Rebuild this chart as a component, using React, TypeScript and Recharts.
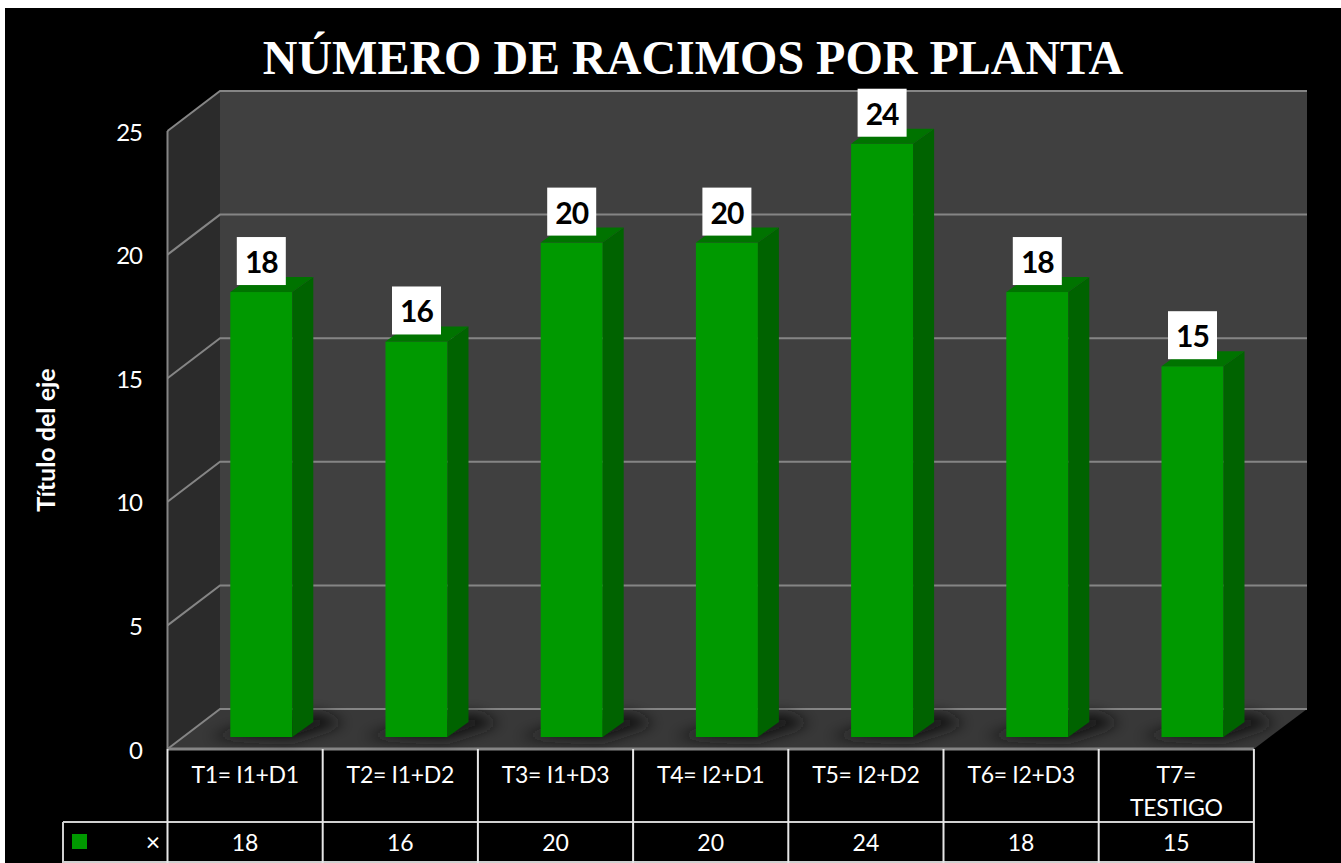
import { Bar, BarChart, CartesianGrid, Label, LabelList, XAxis, YAxis } from "recharts";

const categories = [
  "T1= I1+D1",
  "T2= I1+D2",
  "T3= I1+D3",
  "T4= I2+D1",
  "T5= I2+D2",
  "T6= I2+D3",
  "T7= TESTIGO",
];
const racimos = [18, 16, 20, 20, 24, 18, 15];
const yTicks = [0, 5, 10, 15, 20, 25];

const chartData = categories.map((label, i) => ({ label, racimos: racimos[i] }));

// the fake 3D box: bars stand on a plane between the front edge and the back wall
const WIDTH = 1341;
const HEIGHT = 863;
const BAND = 155.2;
const FRONT_LEFT = 167.5;
const FRONT_RIGHT = FRONT_LEFT + BAND * categories.length;
const BACK_LEFT = 220;
const BACK_RIGHT = 1307;
const FRONT_DY = 12; // bar plane -> front edge
const BACK_DY = 40 - FRONT_DY; // bar plane -> back wall
const PLANE_LEFT = 183.3;
const PLANE_BOTTOM = 737;
const PLANE_TOP = 119;
const DEPTH_X = 21;
const DEPTH_Y = 15;
const FLOOR_FRONT = PLANE_BOTTOM + FRONT_DY;
const ROW_LINE = 822;
const FONT = "Lato, sans-serif";

function Bar3D(props: any) {
  const { x, y, width, height } = props;
  const base = y + height;
  const right = x + width;
  return (
    <g>
      <polygon
        points={`${x - 22},${base} ${right},${base + 3} ${right + 52},${base - 14} ${right + 26},${base - 24} ${x + 16},${base - 10}`}
        fill="#141414"
        filter="url(#floorShadow)"
      />
      <rect x={x} y={y} width={width} height={height} fill="#009900" />
      <polygon
        points={`${right},${y} ${right + DEPTH_X},${y - DEPTH_Y} ${right + DEPTH_X},${base - DEPTH_Y} ${right},${base}`}
        fill="#006300"
      />
      <polygon
        points={`${x},${y} ${x + DEPTH_X},${y - DEPTH_Y} ${right + DEPTH_X},${y - DEPTH_Y} ${right},${y}`}
        fill="#007300"
      />
    </g>
  );
}

function ValueBox(props: any) {
  const { x, y, width, value } = props;
  const cx = x + width / 2;
  return (
    <g>
      <rect x={cx - 24.5} y={y - 55} width={49} height={48} fill="#fff" />
      <text
        x={cx}
        y={y - 31}
        textAnchor="middle"
        dominantBaseline="central"
        fontFamily={FONT}
        fontWeight={700}
        fontSize={30}
        letterSpacing={-1}
        fill="#000"
      >
        {value}
      </text>
    </g>
  );
}

function WallLine(props: any) {
  const { y1, index } = props;
  const back = y1 - BACK_DY;
  return (
    <polyline
      key={index}
      points={`${FRONT_LEFT},${y1 + FRONT_DY} ${BACK_LEFT},${back} ${BACK_RIGHT},${back}`}
      fill="none"
      stroke="#858585"
      strokeWidth={2}
    />
  );
}

function YTick(props: any) {
  const { y, payload } = props;
  return (
    <text
      x={142}
      y={y + FRONT_DY}
      textAnchor="end"
      dominantBaseline="central"
      fontFamily={FONT}
      fontSize={24}
      letterSpacing={-1}
      fill="#fff"
    >
      {payload.value}
    </text>
  );
}

function TableTick(props: any) {
  const { x, payload } = props;
  const i = payload.index;
  const cx = x - (PLANE_LEFT - FRONT_LEFT);
  const left = cx - BAND / 2;
  const words = String(payload.value);
  const lines = words.length > 9 ? words.split(" ") : [words];
  const textProps = {
    textAnchor: "middle" as const,
    dominantBaseline: "central" as const,
    fontFamily: FONT,
    fontSize: 23,
    fill: "#fff",
  };
  return (
    <g>
      <line x1={left} y1={FLOOR_FRONT} x2={left} y2={HEIGHT} stroke="#e6e6e6" strokeWidth={2} />
      {i === categories.length - 1 && (
        <line x1={left + BAND} y1={FLOOR_FRONT} x2={left + BAND} y2={HEIGHT} stroke="#e6e6e6" strokeWidth={2} />
      )}
      {lines.map((line, k) => (
        <text key={line} x={cx} y={774 + k * 33} letterSpacing={-0.3} {...textProps}>
          {line}
        </text>
      ))}
      <text x={cx} y={842} {...textProps}>
        {racimos[i]}
      </text>
    </g>
  );
}

export default function App() {
  return (
    <div style={{ position: "absolute", left: 0, top: 0, width: WIDTH, height: HEIGHT, background: "#fff", overflow: "hidden" }}>
      <div style={{ position: "absolute", left: 5, top: 8, right: 0, bottom: 0, background: "#000" }} />

      <svg width={WIDTH} height={HEIGHT} style={{ position: "absolute", left: 0, top: 0 }}>
        <polygon
          points={`${BACK_LEFT},${PLANE_TOP - BACK_DY} ${BACK_RIGHT},${PLANE_TOP - BACK_DY} ${BACK_RIGHT},${PLANE_BOTTOM - BACK_DY} ${BACK_LEFT},${PLANE_BOTTOM - BACK_DY}`}
          fill="#404040"
        />
        <polygon
          points={`${FRONT_LEFT},${PLANE_TOP + FRONT_DY} ${BACK_LEFT},${PLANE_TOP - BACK_DY} ${BACK_LEFT},${PLANE_BOTTOM - BACK_DY} ${FRONT_LEFT},${FLOOR_FRONT}`}
          fill="#2b2b2b"
        />
        <polygon
          points={`${FRONT_LEFT},${FLOOR_FRONT} ${BACK_LEFT},${PLANE_BOTTOM - BACK_DY} ${BACK_RIGHT},${PLANE_BOTTOM - BACK_DY} ${FRONT_RIGHT},${FLOOR_FRONT}`}
          fill="#383838"
        />
        <line x1={FRONT_LEFT} y1={PLANE_TOP + FRONT_DY} x2={FRONT_LEFT} y2={FLOOR_FRONT} stroke="#858585" strokeWidth={2} />
        <line x1={FRONT_LEFT} y1={FLOOR_FRONT} x2={FRONT_RIGHT} y2={FLOOR_FRONT} stroke="#858585" strokeWidth={3} />
        <line x1={63} y1={ROW_LINE} x2={FRONT_RIGHT} y2={ROW_LINE} stroke="#d0d0d0" strokeWidth={2} />
        <line x1={63} y1={HEIGHT - 1} x2={FRONT_RIGHT} y2={HEIGHT - 1} stroke="#d0d0d0" strokeWidth={2} />
        <line x1={63} y1={ROW_LINE} x2={63} y2={HEIGHT} stroke="#d0d0d0" strokeWidth={2} />
        <rect x={72} y={834} width={15} height={15} fill="#009900" />
        <text x={153} y={841} textAnchor="middle" dominantBaseline="central" fontFamily={FONT} fontSize={25} fill="#fff">
          ×
        </text>
      </svg>

      <div
        style={{
          position: "absolute",
          left: 0,
          width: 1386,
          top: 28,
          textAlign: "center",
          color: "#fff",
          fontFamily: "'Liberation Serif', serif",
          fontWeight: 700,
          fontSize: 48,
          lineHeight: "60px",
          whiteSpace: "nowrap",
        }}
      >
        NÚMERO DE RACIMOS POR PLANTA
      </div>

      <div style={{ position: "absolute", left: 0, top: 0 }}>
        <BarChart
          width={WIDTH}
          height={HEIGHT}
          data={chartData}
          margin={{ top: PLANE_TOP, right: WIDTH - PLANE_LEFT - BAND * categories.length, left: 0, bottom: 0 }}
        >
          <defs>
            <filter id="floorShadow" x="-60%" y="-200%" width="220%" height="500%">
              <feGaussianBlur stdDeviation="7" />
            </filter>
          </defs>
          <CartesianGrid vertical={false} horizontal={WallLine} />
          <XAxis
            dataKey="label"
            height={HEIGHT - PLANE_BOTTOM}
            interval={0}
            axisLine={false}
            tickLine={false}
            tick={TableTick}
          />
          <YAxis
            width={PLANE_LEFT}
            domain={[0, 25]}
            ticks={yTicks}
            axisLine={false}
            tickLine={false}
            tick={YTick}
          >
            <Label
              value="Título del eje"
              angle={-90}
              position="center"
              dx={-46}
              dy={12}
              style={{ fontFamily: FONT, fontWeight: 700, fontSize: 25, fill: "#fff" }}
            />
          </YAxis>
          <Bar dataKey="racimos" barSize={62} shape={Bar3D} isAnimationActive={false}>
            <LabelList dataKey="racimos" content={ValueBox} />
          </Bar>
        </BarChart>
      </div>
    </div>
  );
}
